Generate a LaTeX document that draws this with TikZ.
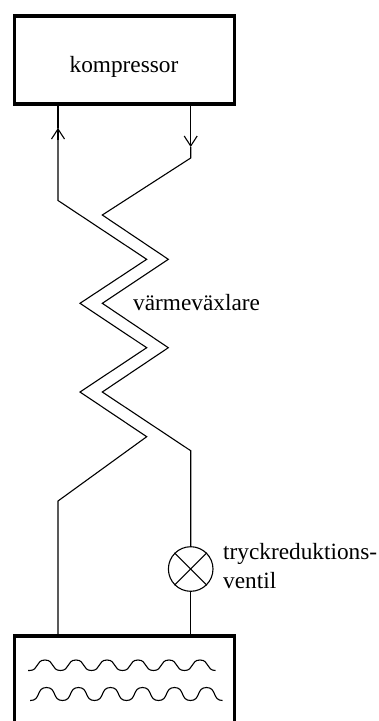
\documentclass[tikz,border=0pt]{standalone}
\usepackage{fontspec}
\setmainfont{Liberation Serif}
\usepackage{tikz}
\usetikzlibrary{arrows.meta, positioning}

\begin{document}
\begin{tikzpicture}[x=1pt, y=-1pt]
\tikzstyle{unit} = [rectangle, minimum width=220pt, minimum height=88pt, inner sep=0pt, draw=black, line width=3.6pt]
\tikzstyle{valve} = [circle, minimum size=44.6pt, inner sep=0pt, draw=black, line width=1.1pt]
\tikzstyle{pipe} = [line width=1.1pt, line join=miter, black]
\tikzstyle{arrow} = [pipe, -{Straight Barb[length=10pt, width=13pt]}]
\tikzstyle{label} = [font=\fontsize{23.3}{29}\selectfont, inner sep=0pt]
\tikzstyle{wave} = [out=0, in=180, looseness=1.3]

\useasboundingbox (0,0) rectangle (379,721);
\clip (0,0) rectangle (379,721);

\node (kompressor) [unit, label, text height=24pt, text depth=0pt] at (124.5,60) {\hspace{-1pt}kompressor};
\node (tank) [unit, minimum height=176pt] at (124.5,724) {};
\node (ventil) [valve] at (190.7,569) {};

% vapour side
\coordinate (upstart) at (58,636);
\coordinate (upbend) at (58,501);
\coordinate (uptip) at (58,128);
\coordinate (uptop) at (58,104);
\draw [pipe] (upstart) -- (upbend) -- (146.7,436.7) -- (80,392) -- (146.7,347.7) -- (80,303.3) -- (146.7,259.3) -- (58,200.5) -- (uptip);
\draw [arrow] (uptip) ++(0,12) -- (uptip);
\draw [pipe] (uptip) -- (uptop);

% liquid side
\coordinate (downtop) at (190.7,104);
\coordinate (downtip) at (190.7,147);
\draw [arrow] (downtop) -- (downtip);
\draw [pipe] (downtip) -- (190.7,158) -- (102.3,215) -- (168.3,259.3) -- (102.3,303.3) -- (168.3,347.7) -- (102.3,392) -- (190.7,450.7) -- (ventil);
\draw [pipe] (ventil) -- (190.7,636);
\draw [pipe] (ventil.45) -- (ventil.225);
\draw [pipe] (ventil.135) -- (ventil.315);

% surface of the liquid
\draw [pipe] (28,670.5) -- (29.5,670.5) \foreach \i in {1,...,6} {to[wave] ++(15.5,-10.5) to[wave] ++(15.5,10.5)};
\draw [pipe] (30,700.5) -- (30.5,700.5) \foreach \i in {1,...,6} {to[wave] ++(16,-13) to[wave] ++(16,13)};

\node (vvx) [label, anchor=base west] at (133,310) {värmeväxlare};
\node (ventiltext) [label, anchor=north west, align=left] at (223,543) {tryckreduktions-\\ventil};
\end{tikzpicture}
\end{document}
